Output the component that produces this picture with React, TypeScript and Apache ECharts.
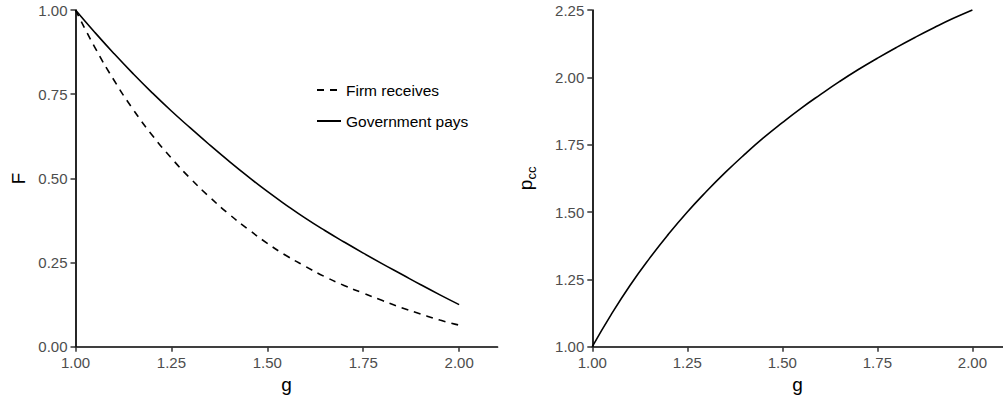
import React, { useEffect, useRef } from "react";
import * as echarts from "echarts";

const gValues = [1.0, 1.05, 1.1, 1.15, 1.2, 1.25, 1.3, 1.35, 1.4, 1.45, 1.5, 1.55, 1.6, 1.65, 1.7, 1.75, 1.8, 1.85, 1.9, 1.95, 2.0];
const firmReceives = [1.0, 0.89, 0.792, 0.705, 0.628, 0.56, 0.499, 0.444, 0.394, 0.349, 0.307, 0.27, 0.238, 0.208, 0.182, 0.159, 0.137, 0.116, 0.097, 0.079, 0.064];
const governmentPays = [1.0, 0.934, 0.871, 0.811, 0.754, 0.7, 0.649, 0.599, 0.551, 0.505, 0.461, 0.42, 0.381, 0.345, 0.311, 0.278, 0.246, 0.215, 0.184, 0.154, 0.125];
const pcc = [1.0, 1.12, 1.229, 1.327, 1.417, 1.5, 1.576, 1.647, 1.713, 1.775, 1.832, 1.886, 1.936, 1.984, 2.029, 2.071, 2.111, 2.149, 2.185, 2.219, 2.25];

const gTicks = [1.0, 1.25, 1.5, 1.75, 2.0];
const fTicks = [0, 0.25, 0.5, 0.75, 1.0];
const pTicks = [1.0, 1.25, 1.5, 1.75, 2.0, 2.25];

const FONT = "'Liberation Sans', Arial, Helvetica, sans-serif";

export default function App() {
  const ref = useRef<HTMLDivElement>(null);

  useEffect(() => {
    if (!ref.current) return;
    const chart = echarts.init(ref.current, null, { renderer: "svg" });

    const axisLine = { show: true, lineStyle: { color: "#000", width: 1.7 } };
    const axisTick = (vals: number[]) => ({
      show: true,
      length: 5,
      lineStyle: { color: "#333", width: 1.5 },
      customValues: vals,
    });
    const axisLabel = (vals: number[]) => ({
      show: true,
      color: "#4d4d4d",
      fontSize: 15,
      fontFamily: FONT,
      margin: 8,
      customValues: vals,
      formatter: (v: number) => Number(v).toFixed(2),
    });
    const nameStyle = { color: "#000", fontSize: 19, fontFamily: FONT };

    const xAxisBase = (idx: number, max: number) => ({
      type: "value",
      gridIndex: idx,
      min: 1,
      max,
      name: "g",
      nameLocation: "middle",
      nameGap: 28,
      nameTextStyle: nameStyle,
      axisLine,
      axisTick: axisTick(gTicks),
      axisLabel: axisLabel(gTicks),
      splitLine: { show: false },
    });

    const lineSeries = (name: string, xi: number, values: number[], dashed: boolean) => ({
      name,
      type: "line",
      xAxisIndex: xi,
      yAxisIndex: xi,
      data: gValues.map((g, i) => [g, values[i]]),
      showSymbol: false,
      symbol: "none",
      smooth: 0.5,
      clip: false,
      lineStyle: { color: "#000", width: 1.6, type: dashed ? [7, 6] : "solid" },
      itemStyle: { color: "#000" },
    });

    chart.setOption({
      animation: false,
      backgroundColor: "#fff",
      textStyle: { fontFamily: FONT },
      grid: [
        { left: 75.5, top: 10, width: 422, height: 336.7, containLabel: false },
        { left: 592.3, top: 10, width: 410.5, height: 336.7, containLabel: false },
      ],
      legend: {
        orient: "vertical",
        left: 316,
        top: 81,
        padding: 0,
        itemWidth: 24,
        itemHeight: 14,
        itemGap: 13,
        itemStyle: { opacity: 0 },
        textStyle: { color: "#000", fontSize: 15.5, fontFamily: FONT, lineHeight: 18 },
        data: ["Firm receives", "Government pays"],
      },
      xAxis: [xAxisBase(0, 2.1), xAxisBase(1, 2.08)],
      yAxis: [
        {
          type: "value",
          gridIndex: 0,
          min: 0,
          max: 1,
          interval: 0.25,
          name: "F",
          nameLocation: "middle",
          nameGap: 48,
          nameTextStyle: nameStyle,
          axisLine,
          axisTick: axisTick(fTicks),
          axisLabel: axisLabel(fTicks),
          splitLine: { show: false },
        },
        {
          type: "value",
          gridIndex: 1,
          min: 1,
          max: 2.25,
          interval: 0.25,
          name: "{a|p}{b|cc}",
          nameLocation: "middle",
          nameGap: 54,
          nameTextStyle: {
            color: "#000",
            fontFamily: FONT,
            rich: {
              a: { fontSize: 19, fontFamily: FONT, color: "#000", lineHeight: 22, verticalAlign: "top" },
              b: { fontSize: 13, fontFamily: FONT, color: "#000", lineHeight: 22, verticalAlign: "bottom", padding: [8, 0, 0, 0] },
            },
          },
          axisLine,
          axisTick: axisTick(pTicks),
          axisLabel: axisLabel(pTicks),
          splitLine: { show: false },
        },
      ],
      series: [
        lineSeries("Firm receives", 0, firmReceives, true),
        lineSeries("Government pays", 0, governmentPays, false),
        lineSeries("pcc", 1, pcc, false),
      ],
    });

    return () => chart.dispose();
  }, []);

  return (
    <div
      ref={ref}
      style={{ position: "absolute", left: 0, top: 0, width: 1003, height: 403, background: "#fff" }}
    />
  );
}
